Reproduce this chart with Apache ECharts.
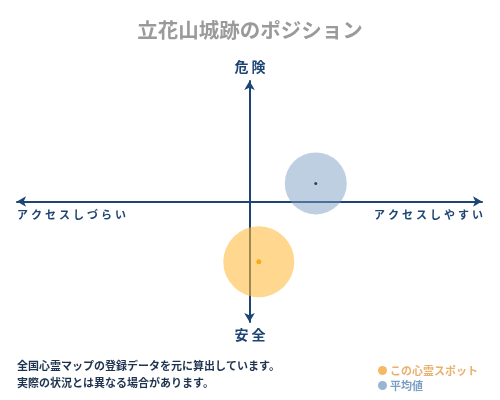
<!DOCTYPE html>
<html>
<head>
<meta charset="utf-8">
<script src="https://cdn.jsdelivr.net/npm/echarts@6/dist/echarts.min.js"></script>
<style>
html, body { margin: 0; padding: 0; background: #fff; }
#chart { width: 500px; height: 400px; }
</style>
</head>
<body>
<div id="chart"></div>
<script>
var titleText = '立花山城跡のポジション';
var seriesNames = ['この心霊スポット', '平均値'];
var spotPoint = [0.4, -5.0];
var averagePoint = [2.85, 1.5];
var axisLabels = { top: '危 険', bottom: '安 全', left: 'アクセスしづらい', right: 'アクセスしやすい' };
var noteLines = ['全国心霊マップの登録データを元に算出しています。', '実際の状況とは異なる場合があります。'];

var font = '"Noto Sans CJK JP", sans-serif';
var navy = '#1d4472';

// spread characters out a little (letterSpacing is not honoured by the canvas text)
function spaced(str) {
	return str.split('').map(function(c) { return '{s|' + c + '}'; }).join('');
}

function chartController(container) {
	var mychart = echarts.init(container);

	var axisLine = {
		show: true,
		onZero: true,
		symbol: ['arrow', 'arrow'],
		symbolSize: [8, 9],
		lineStyle: { color: navy, width: 2 }
	};

	var sideStyle = {
		fill: navy, font: 'bold 11px ' + font,
		rich: { s: { fontSize: 11, fontWeight: 'bold', fontFamily: font, color: navy, padding: [0, 3, 0, 0] } }
	};

	var option = {
		backgroundColor: '#fff',
		title: {
			text: titleText,
			left: 'center',
			top: 15,
			textStyle: { fontFamily: font, fontSize: 20.5, fontWeight: 'bold', color: '#9a9a9a' }
		},
		grid: { left: 17, right: 18, top: 81, bottom: 78 },
		xAxis: {
			type: 'value', min: -10, max: 10,
			axisLine: axisLine,
			axisTick: { show: false }, axisLabel: { show: false }, splitLine: { show: false }
		},
		yAxis: {
			type: 'value', min: -10, max: 10,
			axisLine: axisLine,
			axisTick: { show: false }, axisLabel: { show: false }, splitLine: { show: false }
		},
		legend: {
			orient: 'vertical',
			left: 373,
			top: 360,
			itemWidth: 9,
			itemHeight: 9,
			itemGap: 4,
			icon: 'circle',
			textStyle: { fontFamily: font, fontSize: 11, fontWeight: 'bold', padding: [0, 0, 0, -2] },
			data: [
				{ name: seriesNames[0], itemStyle: { color: '#f5a53c' }, textStyle: { color: '#eab06e' } },
				{ name: seriesNames[1], itemStyle: { color: '#7fa3c8' }, textStyle: { color: '#7b9fc4' } }
			]
		},
		series: [
			{
				name: seriesNames[1], type: 'scatter', z: 1,
				symbolSize: 62,
				itemStyle: { color: 'rgba(126,157,196,0.62)' },
				data: [averagePoint]
			},
			{
				name: seriesNames[0], type: 'scatter', z: 1,
				symbolSize: 71,
				itemStyle: { color: 'rgba(255,185,60,0.72)' },
				data: [spotPoint]
			},
			{
				name: seriesNames[1], type: 'scatter', z: 3, silent: true,
				symbolSize: 3,
				itemStyle: { color: '#1a1a1a' },
				data: [averagePoint]
			},
			{
				name: seriesNames[0], type: 'scatter', z: 3, silent: true,
				symbolSize: 5,
				itemStyle: { color: '#f5a000' },
				data: [spotPoint]
			}
		],
		graphic: [
			{ type: 'text', left: 'center', top: 60,
				style: { text: axisLabels.top, fill: navy, font: 'bold 14px ' + font } },
			{ type: 'text', left: 'center', top: 328,
				style: { text: axisLabels.bottom, fill: navy, font: 'bold 14px ' + font } },
			{ type: 'text', left: 17, top: 209,
				style: Object.assign({ text: spaced(axisLabels.left) }, sideStyle) },
			{ type: 'text', right: 17, top: 209,
				style: Object.assign({ text: spaced(axisLabels.right) }, sideStyle) },
			{ type: 'text', left: 17, top: 360,
				style: { text: noteLines[0], fill: '#1e3350', font: 'bold 11px ' + font } },
			{ type: 'text', left: 17, top: 377,
				style: { text: noteLines[1], fill: '#1e3350', font: 'bold 11px ' + font } }
		]
	};

	mychart.setOption(option, false);
	return mychart;
}

var _chart = chartController(document.getElementById('chart'));
</script>
</body>
</html>
